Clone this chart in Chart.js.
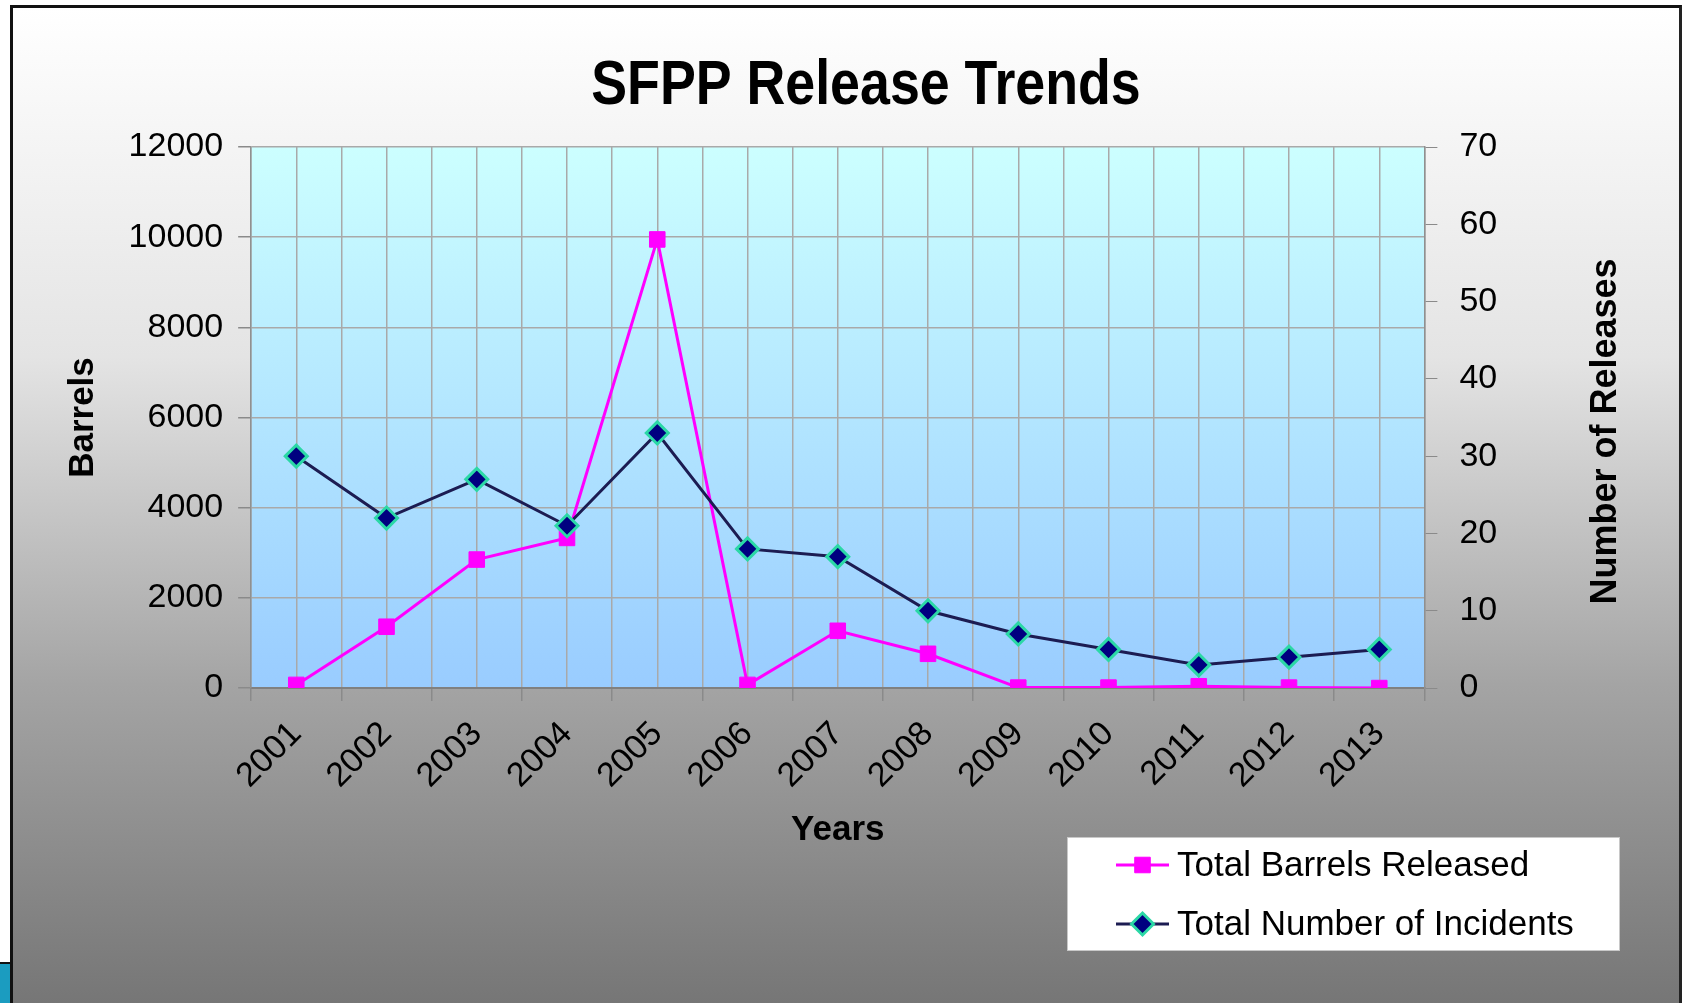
<!DOCTYPE html>
<html>
<head>
<meta charset="utf-8">
<title>SFPP Release Trends</title>
<script src="https://cdn.jsdelivr.net/npm/chart.js@4.4.1/dist/chart.umd.min.js"></script>
<style>
  html, body { margin: 0; padding: 0; background: #fff; }
  body { width: 1682px; height: 1003px; position: relative; overflow: hidden; }
  #panel {
    position: absolute; left: 10px; top: 5px; right: 0; bottom: 0;
    border-left: 3px solid #111; border-top: 3px solid #111; border-right: 3px solid #222;
    background: linear-gradient(to bottom, #ffffff 0%, #e4e4e4 35%, #a4a4a4 68%, #767676 100%);
  }
  #wrap { position: absolute; left: 0; top: 0; right: 0; bottom: 0; }
  #corner {
    position: absolute; left: 0; top: 962px; width: 10px; height: 41px;
    background: #1b9cc0; border-top: 2px solid #111;
  }
</style>
</head>
<body>
<div id="corner"></div>
<div id="panel"><div id="wrap"><canvas id="chart"></canvas></div></div>
<script>
const years = ['2001', '2002', '2003', '2004', '2005', '2006', '2007', '2008', '2009', '2010', '2011', '2012', '2013'];
const barrelsReleased = [70, 1360, 2850, 3330, 9950, 70, 1270, 760, 10, 10, 40, 10, 0];
const incidents = [30, 22, 27, 21, 33, 18, 17, 10, 7, 5, 3, 4, 5];
const barrelTicks = [0, 12000, 2000];
const releaseTicks = [0, 70, 10];

const FONT = "'Liberation Sans', Arial, sans-serif";
const GRID = '#a9a9a9';

// plot area gradient, drawn under the grid
const plotBackground = {
    id: 'plotBackground',
    beforeDraw(chart) {
        const { ctx, chartArea: a } = chart;
        const g = ctx.createLinearGradient(0, a.top, 0, a.bottom);
        g.addColorStop(0, '#ccffff');
        g.addColorStop(1, '#99ccff');
        ctx.save();
        ctx.fillStyle = g;
        ctx.fillRect(a.left, a.top, a.right - a.left, a.bottom - a.top);
        ctx.restore();
    }
};

// the chart.js title only reserves the room; the text is drawn a bit taller
// and further right, as in the original slide
const tallTitle = {
    id: 'tallTitle',
    afterDraw(chart) {
        const t = chart.options.plugins.title;
        const size = t.font.size;
        const ctx = chart.ctx;
        ctx.save();
        ctx.translate(853, t.padding.top + size * 0.6);
        ctx.scale(0.995, 1.16);
        ctx.fillStyle = '#000';
        ctx.font = 'bold ' + size + 'px ' + FONT;
        ctx.textAlign = 'center';
        ctx.textBaseline = 'middle';
        ctx.fillText(t.text, 0, 0);
        ctx.restore();
    }
};

// right axis title reads bottom-to-top in the original, chart.js turns it the other way
const rightTitle = {
    id: 'rightTitle',
    afterDraw(chart) {
        const s = chart.scales.y2;
        const t = s.options.title;
        const size = t.font.size;
        const x = s.right - t.padding.top - size * 0.6 + 3;
        const y = (s.top + s.bottom) / 2 + 14;
        const ctx = chart.ctx;
        ctx.save();
        ctx.translate(x, y);
        ctx.rotate(-Math.PI / 2);
        ctx.fillStyle = '#000';
        ctx.font = 'bold ' + size + 'px ' + FONT;
        ctx.textAlign = 'center';
        ctx.textBaseline = 'middle';
        ctx.fillText(t.text, 0, 0);
        ctx.restore();
    }
};

function marker(ctx, style, x, y, r, fill, stroke, bw) {
    ctx.beginPath();
    if (style === 'rect') {
        const s = r * Math.SQRT1_2;
        ctx.rect(x - s, y - s, 2 * s, 2 * s);
    } else {
        ctx.moveTo(x, y - r);
        ctx.lineTo(x + r, y);
        ctx.lineTo(x, y + r);
        ctx.lineTo(x - r, y);
        ctx.closePath();
    }
    ctx.fillStyle = fill;
    ctx.fill();
    ctx.lineWidth = bw;
    ctx.strokeStyle = stroke;
    ctx.stroke();
}

// boxed legend in the lower right, like the original
const boxLegend = {
    id: 'boxLegend',
    afterDraw(chart) {
        const ctx = chart.ctx;
        const box = { x: 1054, y: 829, w: 553, h: 114 };
        ctx.save();
        ctx.fillStyle = '#ffffff';
        ctx.fillRect(box.x, box.y, box.w, box.h);
        ctx.strokeStyle = '#c8c8c8';
        ctx.lineWidth = 1;
        ctx.strokeRect(box.x + 0.5, box.y + 0.5, box.w - 1, box.h - 1);
        const rows = [857, 916];
        chart.data.datasets.forEach((ds, i) => {
            const y = rows[i];
            ctx.beginPath();
            ctx.moveTo(box.x + 49, y);
            ctx.lineTo(box.x + 102, y);
            ctx.strokeStyle = ds.borderColor;
            ctx.lineWidth = ds.borderWidth;
            ctx.stroke();
            marker(ctx, ds.pointStyle, box.x + 75.5, y, ds.pointRadius,
                ds.pointBackgroundColor, ds.pointBorderColor, ds.pointBorderWidth);
            ctx.fillStyle = '#000';
            ctx.font = '35px ' + FONT;
            ctx.textBaseline = 'middle';
            ctx.textAlign = 'left';
            ctx.fillText(ds.label, box.x + 110, y + 1);
        });
        ctx.restore();
    }
};

const plain = (v) => String(v);

new Chart('chart', {
    type: 'line',
    data: {
        labels: years,
        datasets: [
            {
                label: 'Total Barrels Released',
                data: barrelsReleased,
                yAxisID: 'y',
                borderColor: '#ff00ff',
                borderWidth: 3,
                pointStyle: 'rect',
                pointRadius: 11,
                pointBackgroundColor: '#ff00ff',
                pointBorderColor: '#ff00ff',
                pointBorderWidth: 1,
                tension: 0,
                order: 1
            },
            {
                label: 'Total Number of Incidents',
                data: incidents,
                yAxisID: 'y2',
                borderColor: '#1c1c52',
                borderWidth: 3,
                pointStyle: 'rectRot',
                pointRadius: 11,
                pointBackgroundColor: '#000080',
                pointBorderColor: '#2bd8a6',
                pointBorderWidth: 3,
                tension: 0,
                order: 0
            }
        ]
    },
    options: {
        responsive: true,
        maintainAspectRatio: false,
        animation: false,
        events: [],
        layout: { padding: { left: 42.6, right: 50.6, top: 0, bottom: 147.6 } },
        plugins: {
            legend: { display: false },
            tooltip: { enabled: false },
            title: {
                display: true,
                text: 'SFPP Release Trends',
                color: 'rgba(0,0,0,0)',
                font: { family: FONT, size: 54, weight: 'bold' },
                padding: { top: 46.6, bottom: 27.6 }
            }
        },
        scales: {
            x: {
                type: 'category',
                offset: true,
                grid: { offset: true, color: GRID, lineWidth: 1.5, tickLength: 13, tickColor: '#8a8a8a' },
                border: { color: '#808080', width: 2 },
                ticks: {
                    color: '#000', font: { family: FONT, size: 34 },
                    minRotation: 45, maxRotation: 45, padding: 13, autoSkip: false
                },
                title: {
                    display: true, text: 'Years', color: '#000',
                    font: { family: FONT, size: 35, weight: 'bold' },
                    padding: { top: 0, bottom: 4 }
                }
            },
            xc: {
                type: 'category',
                position: 'top',
                offset: true,
                grid: { offset: false, color: GRID, lineWidth: 1.5, drawTicks: false },
                border: { display: false },
                ticks: { display: false }
            },
            y: {
                position: 'left',
                min: barrelTicks[0], max: barrelTicks[1],
                grid: { color: GRID, lineWidth: 1.5, tickLength: 13, tickColor: '#8a8a8a' },
                border: { color: '#909090', width: 1.5 },
                ticks: { stepSize: barrelTicks[2], color: '#000', font: { family: FONT, size: 34 }, padding: 15, callback: plain },
                title: {
                    display: true, text: 'Barrels', color: '#000',
                    font: { family: FONT, size: 35, weight: 'bold' },
                    padding: { top: 7, bottom: 9 }
                }
            },
            y2: {
                position: 'right',
                min: releaseTicks[0], max: releaseTicks[1],
                grid: { drawOnChartArea: false, tickLength: 13, tickColor: '#8a8a8a' },
                border: { color: '#909090', width: 1.5 },
                ticks: { stepSize: releaseTicks[2], color: '#000', font: { family: FONT, size: 34 }, padding: 22, callback: plain },
                title: {
                    display: true, text: 'Number of Releases', color: 'rgba(0,0,0,0)',
                    font: { family: FONT, size: 36, weight: 'bold' },
                    padding: { top: 4, bottom: 62 }
                }
            }
        }
    },
    plugins: [plotBackground, tallTitle, rightTitle, boxLegend]
});
</script>
</body>
</html>
